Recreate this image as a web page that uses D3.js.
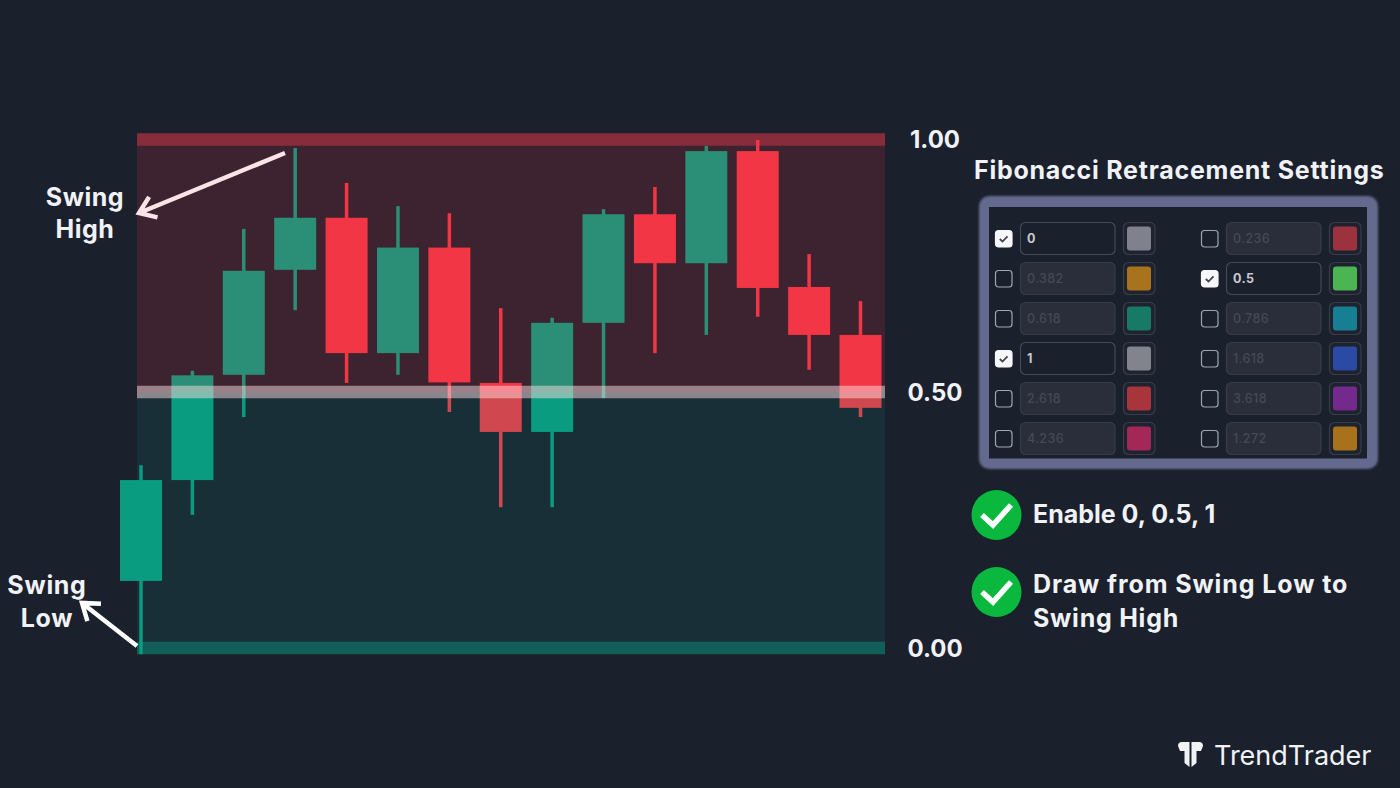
<!DOCTYPE html>
<html>
<head>
    <meta charset="utf-8" />
    <title>Fibonacci Retracement Settings</title>
    <script src="https://d3js.org/d3.v7.min.js"></script>
    <style>
        html, body { margin: 0; padding: 0; background: #1b202d; }
        svg { display: block; }
        text { font-family: Inter, "Open Sans", sans-serif; font-weight: 700; fill: #f1f2f6; }
    </style>
</head>
<body>
    <svg id="chart" width="1400" height="788"></svg>

<script>
    // Candles, on the 0 to 1 retracement scale
    const opens  = [0.131, 0.328, 0.534, 0.742, 0.845, 0.577, 0.786, 0.518, 0.422, 0.637, 0.852, 0.755, 0.977, 0.708, 0.613];
    const closes = [0.328, 0.533, 0.740, 0.845, 0.577, 0.786, 0.519, 0.422, 0.637, 0.852, 0.755, 0.977, 0.706, 0.613, 0.469];
    const highs  = [0.357, 0.542, 0.823, 0.983, 0.914, 0.868, 0.854, 0.666, 0.647, 0.862, 0.906, 0.987, 0.999, 0.773, 0.680];
    const lows   = [-0.012, 0.260, 0.451, 0.662, 0.518, 0.534, 0.461, 0.275, 0.275, 0.488, 0.577, 0.613, 0.649, 0.544, 0.451];

    // Levels drawn on the chart
    const levels = [0, 0.5, 1];
    const levelColors = ["#115f58", "#fcdee0", "#862c3b"];
    const levelOpacity = [1, 0.5, 1];

    // Settings panel, in reading order (left column, right column)
    const fibLevels  = ["0", "0.236", "0.382", "0.5", "0.618", "0.786", "1", "1.618", "2.618", "3.618", "4.236", "1.272"];
    const fibEnabled = [true, false, false, true, false, false, true, false, false, false, false, false];
    const fibColors  = ["#7f828c", "#9c323e", "#a8731c", "#4cb553", "#167a66", "#167f93", "#81848d", "#2a4aa6", "#a8343c", "#732a8c", "#a32757", "#a8721c"];

    const svg = d3.select("#chart");

    const xScale = d3.scaleLinear().domain([0, opens.length - 1]).range([141, 860.5]);
    const yScale = d3.scaleLinear().domain([0, 0.5, 1]).range([648, 392, 139.5]);

    const zoneLeft = 137;
    const zoneRight = 885;
    const candleWidth = 42;
    const wickWidth = 3.5;
    const bandHeight = 12.5;

    // Background zones
    svg.append("rect")
        .attr("x", zoneLeft).attr("y", yScale(1))
        .attr("width", zoneRight - zoneLeft).attr("height", yScale(0.5) - yScale(1))
        .attr("fill", "#3d222f");
    svg.append("rect")
        .attr("x", zoneLeft).attr("y", yScale(0.5))
        .attr("width", zoneRight - zoneLeft).attr("height", yScale(0) - yScale(0.5))
        .attr("fill", "#192f38");

    // Top and bottom level lines sit behind the candles
    svg.selectAll(".band")
        .data(levels.filter(d => d !== 0.5))
        .enter().append("rect")
        .attr("class", "band")
        .attr("x", zoneLeft)
        .attr("y", d => yScale(d) - bandHeight / 2)
        .attr("width", zoneRight - zoneLeft)
        .attr("height", bandHeight)
        .attr("fill", d => levelColors[levels.indexOf(d)]);

    // Candles change tone where they cross the 0.5 level
    const defs = svg.append("defs");
    defs.append("clipPath").attr("id", "clipUpper").append("rect")
        .attr("x", 0).attr("y", 0).attr("width", 1400).attr("height", yScale(0.5));
    defs.append("clipPath").attr("id", "clipLower").append("rect")
        .attr("x", 0).attr("y", yScale(0.5)).attr("width", 1400).attr("height", 788 - yScale(0.5));
    defs.append("filter").attr("id", "soft")
        .attr("x", "-5%").attr("y", "-5%").attr("width", "110%").attr("height", "110%")
        .append("feGaussianBlur").attr("stdDeviation", 1);

    function drawCandles(clipId, upColor, downColor) {
        const g = svg.append("g").attr("clip-path", `url(#${clipId})`);
        const color = i => closes[i] >= opens[i] ? upColor : downColor;
        opens.forEach((open, i) => {
            g.append("rect")
                .attr("x", xScale(i) - wickWidth / 2)
                .attr("y", yScale(highs[i]))
                .attr("width", wickWidth)
                .attr("height", yScale(lows[i]) - yScale(highs[i]))
                .attr("fill", color(i));
            g.append("rect")
                .attr("x", xScale(i) - candleWidth / 2)
                .attr("y", yScale(Math.max(open, closes[i])))
                .attr("width", candleWidth)
                .attr("height", Math.abs(yScale(open) - yScale(closes[i])))
                .attr("fill", color(i));
        });
    }
    drawCandles("clipUpper", "#2b8f77", "#f23645");
    drawCandles("clipLower", "#099c80", "#d0474f");

    // Middle level goes over the candles
    svg.append("rect")
        .attr("x", zoneLeft)
        .attr("y", yScale(0.5) - bandHeight / 2)
        .attr("width", zoneRight - zoneLeft)
        .attr("height", bandHeight)
        .attr("fill", levelColors[1])
        .attr("opacity", levelOpacity[1]);

    // Level labels
    const yAxis = d3.axisRight(yScale).tickValues(levels).tickSize(0).tickFormat(d3.format(".2f"));
    const axisG = svg.append("g").attr("transform", "translate(935,0)").call(yAxis);
    axisG.select(".domain").remove();
    axisG.selectAll("text")
        .attr("x", 0)
        .attr("dy", "0.35em")
        .style("text-anchor", "middle")
        .style("font-size", "24px")
        .style("font-family", "Inter, sans-serif")
        .style("font-weight", "700")
        .attr("fill", "#f1f2f6");

    // Arrows
    function arrow(x1, y1, x2, y2, color) {
        const a = Math.atan2(y1 - y2, x1 - x2);
        const s = 19;
        const head = [a - 0.62, a + 0.62].map(t => [x2 + s * Math.cos(t), y2 + s * Math.sin(t)]);
        svg.append("path")
            .attr("d", `M${x1},${y1}L${x2},${y2}M${head[0]}L${x2},${y2}L${head[1]}`)
            .attr("fill", "none")
            .attr("stroke", color)
            .attr("stroke-width", 4.5);
    }
    arrow(285, 153, 139, 213, "#fde3e6");
    arrow(137, 646, 82, 603, "#ffffff");

    // Text labels
    function label(x, y, str, size, anchor, spacing) {
        return svg.append("text")
            .attr("x", x).attr("y", y)
            .attr("text-anchor", anchor || "start")
            .style("font-size", size + "px")
            .style("letter-spacing", (spacing || 0) + "px")
            .text(str);
    }
    label(85, 206, "Swing", 25, "middle", 0.5);
    label(85, 238, "High", 25, "middle", 0.5);
    label(47, 594, "Swing", 25, "middle", 0.7);
    label(47, 627, "Low", 25, "middle", 0.7);
    label(974, 179, "Fibonacci Retracement Settings", 25, "start", 0.75);
    label(1033, 523, "Enable 0, 0.5, 1", 25, "start", 0);
    label(1033, 593, "Draw from Swing Low to", 25, "start", 0.9);
    label(1033, 627, "Swing High", 25, "start", 0.75);

    // Settings panel
    svg.append("rect")
        .attr("x", 979).attr("y", 196).attr("width", 399).attr("height", 273).attr("rx", 10)
        .attr("fill", "#636a8e").attr("filter", "url(#soft)");
    svg.append("rect")
        .attr("x", 989).attr("y", 207).attr("width", 378).attr("height", 251.5)
        .attr("fill", "#1b202d");

    const rowScale = d3.scalePoint().domain(d3.range(6)).range([238.5, 438.5]);
    const colScale = d3.scalePoint().domain([0, 1]).range([995, 1201]);

    const rows = svg.selectAll(".fibRow")
        .data(fibLevels)
        .enter().append("g")
        .attr("class", "fibRow")
        .attr("transform", (d, i) => `translate(${colScale(i % 2)},${rowScale(Math.floor(i / 2))})`);

    rows.append("rect")
        .attr("x", 0.5).attr("y", -8).attr("width", 16.5).attr("height", 16.5).attr("rx", 3)
        .attr("fill", (d, i) => fibEnabled[i] ? "#f6f7fa" : "none")
        .attr("stroke", (d, i) => fibEnabled[i] ? "#f6f7fa" : "#a3a5ac")
        .attr("stroke-width", 1.2);
    rows.filter((d, i) => fibEnabled[i]).append("path")
        .attr("d", "M4.8,0.5L7.5,3L12.5,-2.2")
        .attr("fill", "none").attr("stroke", "#43464f").attr("stroke-width", 1.8);

    rows.append("rect")
        .attr("x", 25.5).attr("y", -16).attr("width", 94.5).attr("height", 32).attr("rx", 5)
        .attr("fill", (d, i) => fibEnabled[i] ? "#1b202d" : "#2a2e3a")
        .attr("stroke", (d, i) => fibEnabled[i] ? "#454954" : "#383c48")
        .attr("stroke-width", 1.2);
    rows.append("text")
        .attr("x", 32).attr("y", 4.5)
        .style("font-size", "12.5px")
        .style("letter-spacing", "0.4px")
        .style("font-weight", (d, i) => fibEnabled[i] ? 700 : 500)
        .style("fill", (d, i) => fibEnabled[i] ? "#c8cad0" : "#454954")
        .text(d => d);

    rows.append("rect")
        .attr("x", 128.5).attr("y", -16).attr("width", 31.5).attr("height", 32).attr("rx", 5)
        .attr("fill", "#1f2330").attr("stroke", "#393d48").attr("stroke-width", 1.2);
    rows.append("rect")
        .attr("x", 132).attr("y", -12).attr("width", 24).attr("height", 24).attr("rx", 3)
        .attr("fill", (d, i) => fibColors[i]);

    // Check bullets
    [515, 592].forEach(cy => {
        svg.append("circle").attr("cx", 996.5).attr("cy", cy).attr("r", 25).attr("fill", "#0bb83e");
        svg.append("path")
            .attr("d", `M${982},${cy}L${993},${cy + 10}L${1011},${cy - 10}`)
            .attr("fill", "none").attr("stroke", "#ffffff").attr("stroke-width", 5.5);
    });

    // Logo
    svg.append("path")
        .attr("d", "M1178,746Q1178,742 1182,742L1189.5,742L1189.5,767L1184.5,763L1184.5,751L1180,751Z M1203,746Q1203,742 1199,742L1191.5,742L1191.5,767L1196.5,763L1196.5,751L1201,751Z")
        .attr("fill", "#f1f2f6");
    label(1214, 765, "TrendTrader", 27, "start", 0).style("font-weight", 400);
</script>
</body>
</html>
